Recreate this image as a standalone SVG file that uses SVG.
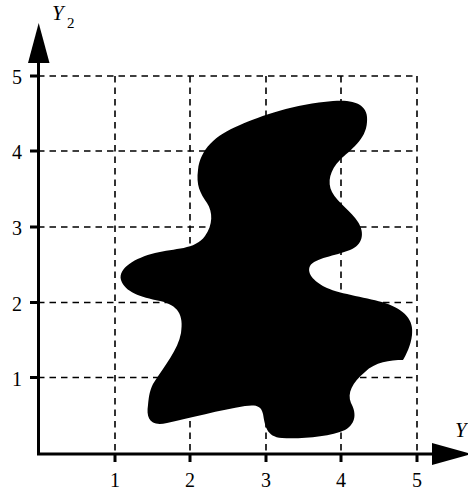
<svg xmlns="http://www.w3.org/2000/svg" width="468" height="490" viewBox="0 0 468 490">
<style>
.grid{stroke:#000;stroke-width:1.6;stroke-dasharray:6.5,5;fill:none}
.axis{stroke:#000;stroke-width:3;fill:none}
.tick{stroke:#000;stroke-width:3}
text{font-family:'Liberation Serif','Times New Roman','DejaVu Serif',serif;fill:#000}
.num{font-size:20px}
.lab{font-style:italic;font-size:21px}
.sub{font-size:15px}
</style>
<g id="grid">
<path class="grid" d="M38,76H417 M38,151H417 M38,227H417 M38,302.5H417 M38,377.5H417"/>
<path class="grid" d="M115,76V454 M190,76V454 M266,76V454 M341,76V454 M417,76V454"/>
</g>
<g id="blob">
<path fill="#000" d="M333,101 C355,99 369,105 367,122 C366,140 350,150 340,160 C330,170 327,182 332,192 C337,202 352,212 358,222 C365,233 363,245 350,250 C335,256 315,258 310,266 C306,274 316,283 327,288 C340,294 370,298 385,303 C405,310 414,320 412,335 C411,345 406,355 403,360 C390,360 375,362 365,372 C352,383 347,393 351,403 C356,412 357,423 345,430 C330,437 300,439 282,438 C266,437 265,425 263,414 C261,405 255,405 245,406 C220,410 190,418 167,423 C150,427 146,418 148,405 C149,395 150,390 153,384 C165,365 178,350 181,333 C184,315 178,305 160,301 C140,297 125,292 121,280 C118,268 135,258 155,253 C175,248 195,250 205,236 C213,225 213,212 207,203 C200,193 196,185 198,170 C200,150 215,135 240,125 C260,116 295,104 333,101 Z"/>
</g>
<g id="axes">
<path class="axis" d="M38.5,455.5V60 M37,454H433"/>
<polygon points="28,63 49.5,63 38.7,23" fill="#000"/>
<polygon points="432,443 432,465 472,454" fill="#000"/>
<path class="tick" d="M115,454V462 M190,454V462 M266,454V462 M341,454V462 M417,454V462"/>
<path class="tick" d="M30,76H38 M30,151H38 M30,227H38 M30,302.5H38 M30,377.5H38"/>
</g>
<g id="labels">
<text class="num" x="22" y="84" text-anchor="end">5</text>
<text class="num" x="22" y="159" text-anchor="end">4</text>
<text class="num" x="22" y="235" text-anchor="end">3</text>
<text class="num" x="22" y="310.5" text-anchor="end">2</text>
<text class="num" x="22" y="385.5" text-anchor="end">1</text>
<text class="num" x="115" y="487" text-anchor="middle">1</text>
<text class="num" x="190" y="487" text-anchor="middle">2</text>
<text class="num" x="266" y="487" text-anchor="middle">3</text>
<text class="num" x="341" y="487" text-anchor="middle">4</text>
<text class="num" x="417" y="487" text-anchor="middle">5</text>
<text class="lab" x="52" y="20">Y</text>
<text class="sub" x="67" y="28">2</text>
<text class="lab" x="455" y="437">Y</text>
</g>
</svg>
